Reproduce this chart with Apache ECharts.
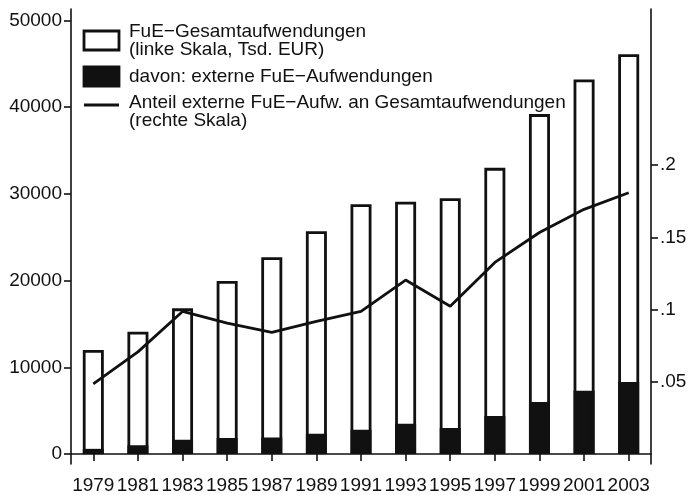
<!DOCTYPE html>
<html>
<head>
<meta charset="utf-8">
<script src="https://cdn.jsdelivr.net/npm/echarts@6/dist/echarts.min.js"></script>
<style>
html,body{margin:0;padding:0;background:#fff;}
#chart{width:690px;height:495px;}
</style>
</head>
<body>
<div id="chart"></div>
<script>
const years = ['1979','1981','1983','1985','1987','1989','1991','1993','1995','1997','1999','2001','2003'];
const totalSpend = [12000, 14100, 16800, 19950, 22700, 25700, 28800, 29100, 29500, 33000, 39200, 43200, 46100];
const externalSpend = [600, 1000, 1650, 1850, 1920, 2340, 2800, 3500, 3000, 4400, 6000, 7300, 8300];
const externalShare = [0.0486, 0.0708, 0.0988, 0.0907, 0.0843, 0.0919, 0.0989, 0.1205, 0.1024, 0.1327, 0.1534, 0.1694, 0.1809];
const leftTicks = [0, 10000, 20000, 30000, 40000, 50000];
const rightTicks = [0.05, 0.1, 0.15, 0.2];
const legendNames = ['FuE\u2212Gesamtaufwendungen\n(linke Skala, Tsd. EUR)', 'davon: externe FuE\u2212Aufwendungen', 'Anteil externe FuE\u2212Aufw. an Gesamtaufwendungen\n(rechte Skala)'];

const ink = '#111';
const font = 'Liberation Sans, Arial, Helvetica, sans-serif';
const chart = echarts.init(document.getElementById('chart'), null, {renderer: 'canvas'});

chart.setOption({
  backgroundColor: '#fff',
  animation: false,
  grid: {left: 71, right: 39, top: 9, bottom: 29, containLabel: false},
  xAxis: {
    type: 'category',
    data: years,
    boundaryGap: true,
    axisLine: {show: true, lineStyle: {color: ink, width: 1.6}},
    axisTick: {show: true, alignWithLabel: true, length: 7, lineStyle: {color: ink, width: 1.6}},
    axisLabel: {color: ink, fontSize: 19, fontFamily: font, margin: 12, interval: 0},
    splitLine: {show: false}
  },
  yAxis: [
    {
      type: 'value',
      position: 'left',
      min: -1148,
      max: 51320,
      axisLine: {show: true, lineStyle: {color: ink, width: 1.6}},
      axisTick: {show: true, length: 7, lineStyle: {color: ink, width: 1.6}, customValues: leftTicks},
      axisLabel: {color: ink, fontSize: 19, fontFamily: font, margin: 9, customValues: leftTicks,
        formatter: v => String(Math.round(v))},
      splitLine: {show: false}
    },
    {
      type: 'value',
      position: 'right',
      min: -0.00675,
      max: 0.308,
      axisLine: {show: true, lineStyle: {color: ink, width: 1.6}},
      axisTick: {show: true, length: 7, lineStyle: {color: ink, width: 1.6}, customValues: rightTicks},
      axisLabel: {color: ink, fontSize: 19, fontFamily: font, margin: 9, customValues: rightTicks,
        formatter: v => String(Math.round(v * 1000) / 1000).replace(/^0/, '')},
      splitLine: {show: false}
    }
  ],
  series: [
    {
      name: legendNames[0],
      type: 'bar',
      data: totalSpend,
      barWidth: 21,
      barGap: '-100%',
      itemStyle: {color: '#fff', borderColor: ink, borderWidth: 2.8},
      z: 2
    },
    {
      name: legendNames[1],
      type: 'bar',
      data: externalSpend,
      barWidth: 21,
      barGap: '-100%',
      itemStyle: {color: ink, borderColor: ink, borderWidth: 2.8},
      z: 3
    },
    {
      name: legendNames[2],
      type: 'line',
      yAxisIndex: 1,
      data: externalShare,
      showSymbol: false,
      symbol: 'none',
      lineStyle: {color: ink, width: 2.8},
      itemStyle: {color: ink},
      z: 5
    }
  ],
  graphic: [
    {type: 'rect', shape: {x: 84, y: 31, width: 35, height: 19}, style: {fill: '#fff', stroke: ink, lineWidth: 2.8}, z: 10},
    {type: 'rect', shape: {x: 84, y: 67, width: 35, height: 19}, style: {fill: ink, stroke: ink, lineWidth: 2.8}, z: 10},
    {type: 'line', shape: {x1: 84, y1: 105, x2: 119, y2: 105}, style: {stroke: ink, lineWidth: 2.8}, z: 10},
    {type: 'text', x: 129, y: 41, style: {text: legendNames[0], fill: ink, font: '19px ' + font, lineHeight: 18, verticalAlign: 'middle'}, z: 10},
    {type: 'text', x: 129, y: 77, style: {text: legendNames[1], fill: ink, font: '19px ' + font, verticalAlign: 'middle'}, z: 10},
    {type: 'text', x: 129, y: 112, style: {text: legendNames[2], fill: ink, font: '19px ' + font, lineHeight: 18, verticalAlign: 'middle'}, z: 10}
  ]
});
</script>
</body>
</html>
